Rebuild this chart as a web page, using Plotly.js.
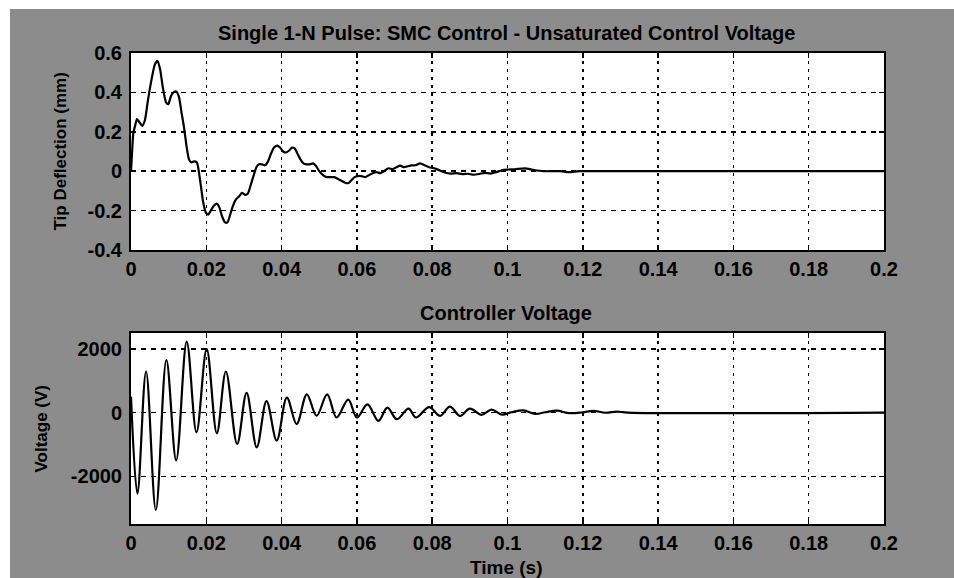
<!DOCTYPE html>
<html>
<head>
<meta charset="utf-8">
<script src="https://cdn.plot.ly/plotly-3.0.1.min.js"></script>
<style>html,body{margin:0;padding:0;background:#fff;}#chart{width:954px;height:578px;}</style>
</head>
<body>
<div id="chart"></div>
<script>
// ---- Data ----
var timeTicks = [0, 0.02, 0.04, 0.06, 0.08, 0.1, 0.12, 0.14, 0.16, 0.18, 0.2];
var timeTickLabels = ['0', '0.02', '0.04', '0.06', '0.08', '0.1', '0.12', '0.14', '0.16', '0.18', '0.2'];
var deflTicks = [-0.4, -0.2, 0, 0.2, 0.4, 0.6];
var deflTickLabels = ['-0.4', '-0.2', '0', '0.2', '0.4', '0.6'];
var voltTicks = [-2000, 0, 2000];
var voltTickLabels = ['-2000', '0', '2000'];

// Tip deflection (mm) vs time (s)
var tDefl = [0, 0.0003, 0.0006, 0.0012, 0.0016, 0.0022, 0.0030, 0.0037, 0.0045, 0.0055, 0.0063, 0.0070, 0.0077, 0.0085, 0.0093, 0.0099,
  0.0106, 0.0113, 0.0120, 0.0127, 0.0134, 0.0141, 0.0148, 0.0154, 0.0160, 0.0168, 0.0175, 0.0180, 0.0186, 0.0192, 0.0199, 0.0205,
  0.0212, 0.0220, 0.0228, 0.0235, 0.0242, 0.0250, 0.0256, 0.0262, 0.0270, 0.0278, 0.0286, 0.0295, 0.0303, 0.0310, 0.0318, 0.0326,
  0.0333, 0.0340, 0.0348, 0.0356, 0.0364, 0.0372, 0.0380, 0.0388, 0.0396, 0.0404, 0.0412, 0.0420, 0.0428, 0.0435, 0.0442, 0.0450,
  0.0458, 0.0466, 0.0475, 0.0484, 0.0492, 0.0500, 0.0510, 0.0520, 0.0530, 0.0540, 0.0550, 0.0560, 0.0570, 0.0578, 0.0586, 0.0594,
  0.0602, 0.0612, 0.0622, 0.0632, 0.0642, 0.0652, 0.0662, 0.0672, 0.0684, 0.0695, 0.0705, 0.0715, 0.0725, 0.0735, 0.0745, 0.0755,
  0.0768, 0.0780, 0.0792, 0.0803, 0.0815, 0.0825, 0.0835, 0.0850, 0.0865, 0.0880, 0.0895, 0.0910, 0.0925, 0.0940, 0.0955, 0.0970,
  0.0985, 0.1000, 0.1020, 0.1046, 0.1070, 0.1095, 0.1120, 0.1140, 0.1164, 0.1190, 0.1250, 0.2];
var vDefl = [0, 0.10, 0.19, 0.24, 0.265, 0.25, 0.23, 0.26, 0.36, 0.47, 0.54, 0.56, 0.52, 0.42, 0.35, 0.34,
  0.38, 0.40, 0.405, 0.38, 0.30, 0.22, 0.12, 0.06, 0.045, 0.05, 0.045, 0.0, -0.08, -0.16, -0.21, -0.22,
  -0.20, -0.175, -0.165, -0.185, -0.23, -0.26, -0.26, -0.23, -0.18, -0.145, -0.13, -0.11, -0.12, -0.115, -0.07, -0.02,
  0.02, 0.035, 0.035, 0.03, 0.05, 0.09, 0.12, 0.13, 0.12, 0.10, 0.095, 0.105, 0.12, 0.115, 0.09, 0.06,
  0.04, 0.035, 0.035, 0.04, 0.025, 0.0, -0.02, -0.03, -0.03, -0.03, -0.04, -0.05, -0.06, -0.06, -0.045, -0.03,
  -0.025, -0.025, -0.03, -0.02, -0.01, -0.005, -0.01, 0.0, 0.015, 0.01, 0.02, 0.028, 0.02, 0.025, 0.03, 0.03,
  0.04, 0.03, 0.02, 0.016, 0.008, 0.0, -0.008, -0.012, -0.01, -0.015, -0.013, -0.018, -0.014, -0.008, -0.012, -0.005,
  0.005, 0.008, 0.010, 0.014, 0.006, 0.0, 0.0, 0.0, -0.005, 0.0, 0.0, 0.0];

// Controller voltage (V) vs time (s)
var tVolt = [0, 0.0017, 0.0040, 0.0066, 0.0094, 0.0120, 0.0148, 0.0174, 0.0201, 0.0228, 0.0252, 0.0282, 0.0307, 0.0334,
  0.0360, 0.0387, 0.0414, 0.0440, 0.0467, 0.0493, 0.0521, 0.0546, 0.0577, 0.0600, 0.0628, 0.0657, 0.0681, 0.0706,
  0.0737, 0.0757, 0.0792, 0.0821, 0.0847, 0.0874, 0.0900, 0.0931, 0.0958, 0.0985, 0.1010, 0.1042, 0.1074, 0.1100,
  0.1131, 0.1165, 0.1200, 0.1228, 0.1260, 0.1290, 0.1320, 0.2];
var vVolt = [500, -2550, 1290, -3060, 1650, -1500, 2230, -620, 2000, -650, 1290, -985, 620, -1090,
  360, -880, 470, -360, 570, -100, 570, -155, 410, -155, 260, -260, 155, -207,
  124, -155, 170, -104, 186, -104, 124, -72, 93, -62, 10, 70, -40, 10,
  60, -20, 10, 55, -5, 30, 0, 0];

// ---- Chart ----
var FONT = 'Liberation Sans, Arial, Helvetica, sans-serif';
var W = 954, H = 578;
var xDom = [131 / W, 884 / W];
var topDom = [1 - 250 / H, 1 - 53 / H];
var botDom = [1 - 524 / H, 1 - 333 / H];

function xAxis(anchor) {
  return {
    domain: xDom, anchor: anchor, range: [0, 0.2],
    tickmode: 'array', tickvals: timeTicks, ticktext: timeTickLabels,
    ticks: 'inside', ticklen: 5, tickwidth: 1.5, tickcolor: '#000',
    showline: true, linecolor: '#000', linewidth: 2, mirror: 'ticks',
    showgrid: true, gridcolor: '#000', gridwidth: 1.5, griddash: '3px,5px',
    zeroline: false, ticklabelstandoff: 0,
    tickfont: {family: FONT, size: 20, color: '#000', weight: 'bold'}
  };
}
function yAxis(anchor, dom, range, vals, labels) {
  return {
    domain: dom, anchor: anchor, range: range,
    tickmode: 'array', tickvals: vals, ticktext: labels,
    ticks: 'inside', ticklen: 5, tickwidth: 1.5, tickcolor: '#000',
    showline: true, linecolor: '#000', linewidth: 2, mirror: 'ticks',
    showgrid: true, gridcolor: '#000', gridwidth: 1.5, griddash: '5px,5px',
    zeroline: false, ticklabelstandoff: 3,
    tickfont: {family: FONT, size: 20, color: '#000', weight: 'bold'}
  };
}

var traces = [
  {x: tDefl, y: vDefl, xaxis: 'x', yaxis: 'y', type: 'scatter', mode: 'lines',
   line: {color: '#000', width: 2.2, shape: 'spline', smoothing: 0.6}, hoverinfo: 'skip'},
  {x: tVolt, y: vVolt, xaxis: 'x2', yaxis: 'y2', type: 'scatter', mode: 'lines',
   line: {color: '#000', width: 2.2, shape: 'spline', smoothing: 1}, hoverinfo: 'skip'}
];

var bold = function (size) { return {family: FONT, size: size, color: '#000', weight: 'bold'}; };

var layout = {
  width: W, height: H,
  margin: {l: 0, r: 0, t: 0, b: 0},
  paper_bgcolor: '#8c8c8c',
  plot_bgcolor: '#ffffff',
  showlegend: false,
  xaxis: xAxis('y'),
  yaxis: yAxis('x', topDom, [-0.4, 0.6], deflTicks, deflTickLabels),
  xaxis2: xAxis('y2'),
  yaxis2: yAxis('x2', botDom, [-3500, 2500], voltTicks, voltTickLabels),
  shapes: [
    {type: 'rect', xref: 'paper', yref: 'paper', x0: -0.01, x1: 1.01, y0: 1 - 9 / H, y1: 1.01,
     fillcolor: '#ffffff', line: {width: 0}, layer: 'below'},
    {type: 'rect', xref: 'paper', yref: 'paper', x0: -0.01, x1: 10 / W, y0: -0.01, y1: 1.01,
     fillcolor: '#ffffff', line: {width: 0}, layer: 'below'}
  ],
  annotations: [
    {text: 'Single 1-N Pulse: SMC Control - Unsaturated Control Voltage', xref: 'paper', yref: 'paper',
     x: 506 / W, y: 1 - 33 / H, xanchor: 'center', yanchor: 'middle', showarrow: false, font: bold(20)},
    {text: 'Controller Voltage', xref: 'paper', yref: 'paper',
     x: 506 / W, y: 1 - 313 / H, xanchor: 'center', yanchor: 'middle', showarrow: false, font: bold(20)},
    {text: 'Tip Deflection (mm)', xref: 'paper', yref: 'paper', textangle: -90,
     x: 60 / W, y: 1 - 151.5 / H, xanchor: 'center', yanchor: 'middle', showarrow: false, font: bold(17)},
    {text: 'Voltage (V)', xref: 'paper', yref: 'paper', textangle: -90,
     x: 41 / W, y: 1 - 428.5 / H, xanchor: 'center', yanchor: 'middle', showarrow: false, font: bold(17)},
    {text: 'Time (s)', xref: 'paper', yref: 'paper',
     x: 506 / W, y: 1 - 567 / H, xanchor: 'center', yanchor: 'middle', showarrow: false, font: bold(19)}
  ]
};

Plotly.newPlot('chart', traces, layout, {displayModeBar: false, staticPlot: true});
</script>
</body>
</html>
